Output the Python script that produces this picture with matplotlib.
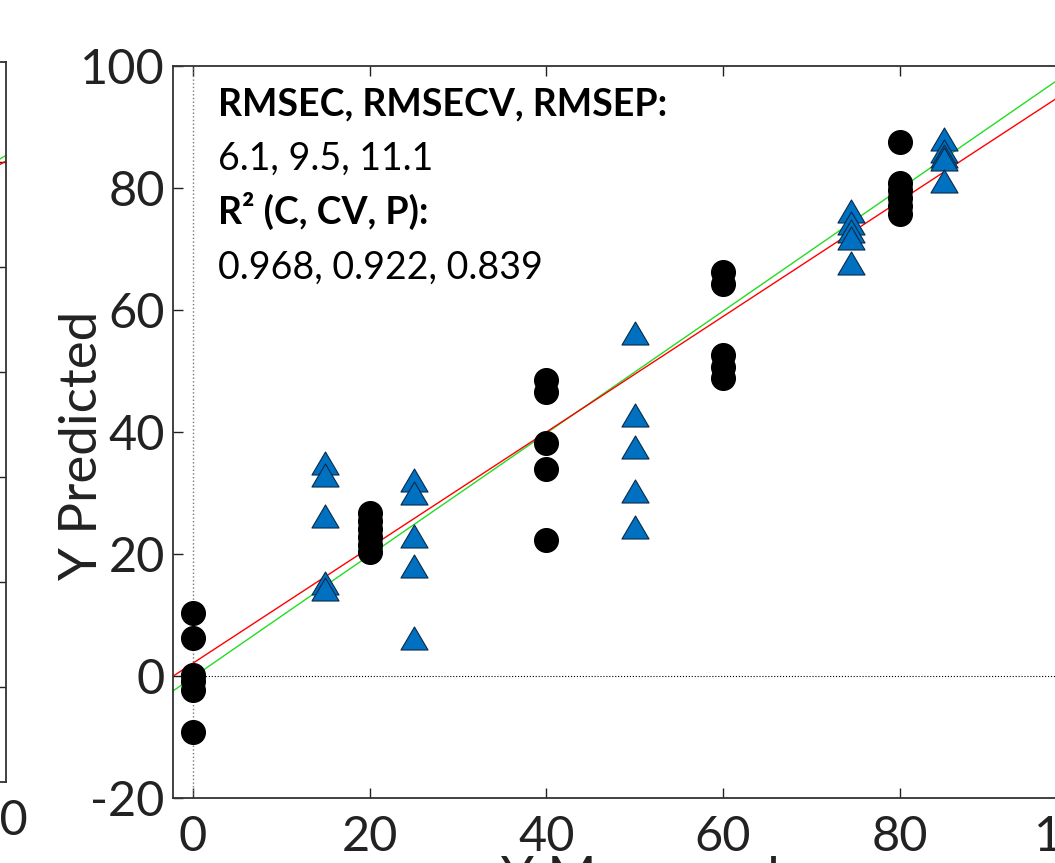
import matplotlib
matplotlib.use('Agg')
import matplotlib.pyplot as plt
from matplotlib.path import Path

plt.rcParams['font.family'] = ['Lato', 'DejaVu Sans']
plt.rcParams['axes.unicode_minus'] = False

# calibration / cross-validation samples (black circles)
cal_x = [0, 0, 0, 0, 0, 0,
         20, 20, 20, 20, 20, 20,
         40, 40, 40, 40, 40,
         60, 60, 60, 60, 60,
         80, 80, 80, 80, 80, 80]
cal_y = [10.3, 6.2, 0.2, -0.8, -2.3, -9.1,
         26.7, 25.4, 24.1, 22.8, 21.5, 20.3,
         48.5, 46.6, 38.2, 33.9, 22.3,
         66.2, 64.3, 52.6, 50.7, 48.9,
         87.6, 80.8, 79.7, 78.4, 77.0, 75.7]

# prediction samples (blue triangles)
pred_x = [15, 15, 15, 15, 15,
          25, 25, 25, 25, 25,
          50, 50, 50, 50, 50,
          74.5, 74.5, 74.5, 74.5, 74.5,
          85, 85, 85, 85, 85]
pred_y = [34.9, 33.0, 26.2, 15.2, 14.3,
          32.1, 30.0, 23.0, 18.0, 6.2,
          56.2, 42.8, 37.5, 30.3, 24.4,
          76.2, 74.2, 73.0, 71.8, 67.7,
          88.1, 86.0, 85.3, 84.8, 81.2]

# fit lines: (intercept, slope)
red_fit = (2.1, 0.947)
green_fit = (-0.2, 1.0)

# neighbouring panel (only its right edge is visible)
left_red_fit = (2.5, 0.955)
left_green_fit = (0.0, 0.99)

stats_lines = ['RMSEC, RMSECV, RMSEP:', '6.1, 9.5, 11.1',
               'R\u00b2 (C, CV, P):', '0.968, 0.922, 0.839']

ticks = [0, 20, 40, 60, 80, 100]
yticks_main = [-20, 0, 20, 40, 60, 80, 100]

fig = plt.figure(figsize=(10.55, 8.63), dpi=100)

tri = Path([(-1, -0.85), (1, -0.85), (0, 0.85), (-1, -0.85)],
           [Path.MOVETO, Path.LINETO, Path.LINETO, Path.CLOSEPOLY])


def style_axes(ax):
    ax.tick_params(direction='in', length=7, width=1, top=True, right=True,
                   labelsize=35, colors='#222222')
    ax.tick_params(axis='y', pad=6)
    ax.tick_params(axis='x', pad=12)
    for s in ax.spines.values():
        s.set_linewidth(1.3)
        s.set_color('#333333')


# left neighbour panel, cut by the figure edge
axl = fig.add_axes([-0.8692, 0.0939, 0.8749, 0.8343])
axl.set_xlim(-2.25, 102.25)
axl.set_ylim(-18, 119)
axl.set_xticks(ticks)
axl.set_yticks(ticks)
axl.axline((0, left_red_fit[0]), slope=left_red_fit[1], color='red', lw=1)
axl.axline((0, left_green_fit[0]), slope=left_green_fit[1], color='#22dd22', lw=1)
style_axes(axl)

# main panel
ax = fig.add_axes([0.1640, 0.0753, 0.8749, 0.8482])
ax.set_xlim(-2.25, 102.25)
ax.set_ylim(-20, 100)
ax.set_xticks(ticks)
ax.set_yticks(yticks_main)
ax.axvline(0, color='#777777', lw=1, ls=':')
ax.axhline(0, color='black', lw=0.8, ls=':')
ax.axline((0, green_fit[0]), slope=green_fit[1], color='#22dd22', lw=1, zorder=2)
ax.axline((0, red_fit[0]), slope=red_fit[1], color='red', lw=1, zorder=2)
ax.scatter(cal_x, cal_y, s=290, marker='o', color='black', zorder=3)
ax.scatter(pred_x, pred_y, s=380, marker=tri, facecolor='#0070C0',
           edgecolor='#0a2a4a', linewidth=0.8, zorder=4)
style_axes(ax)

ax.set_ylabel('Y Predicted', fontsize=38, color='#222222')
ax.yaxis.set_label_coords(-0.073, 0.482)
ax.set_xlabel('Y Measured', fontsize=38, color='#222222')
ax.xaxis.set_label_coords(0.506, -0.079)

for i, line in enumerate(stats_lines):
    ax.text(0.0488, 0.933 - i * 0.0745, line, transform=ax.transAxes,
            fontsize=27, fontweight='bold' if i % 2 == 0 else 'normal',
            va='baseline', ha='left')

fig.savefig('out.png', dpi=100)
